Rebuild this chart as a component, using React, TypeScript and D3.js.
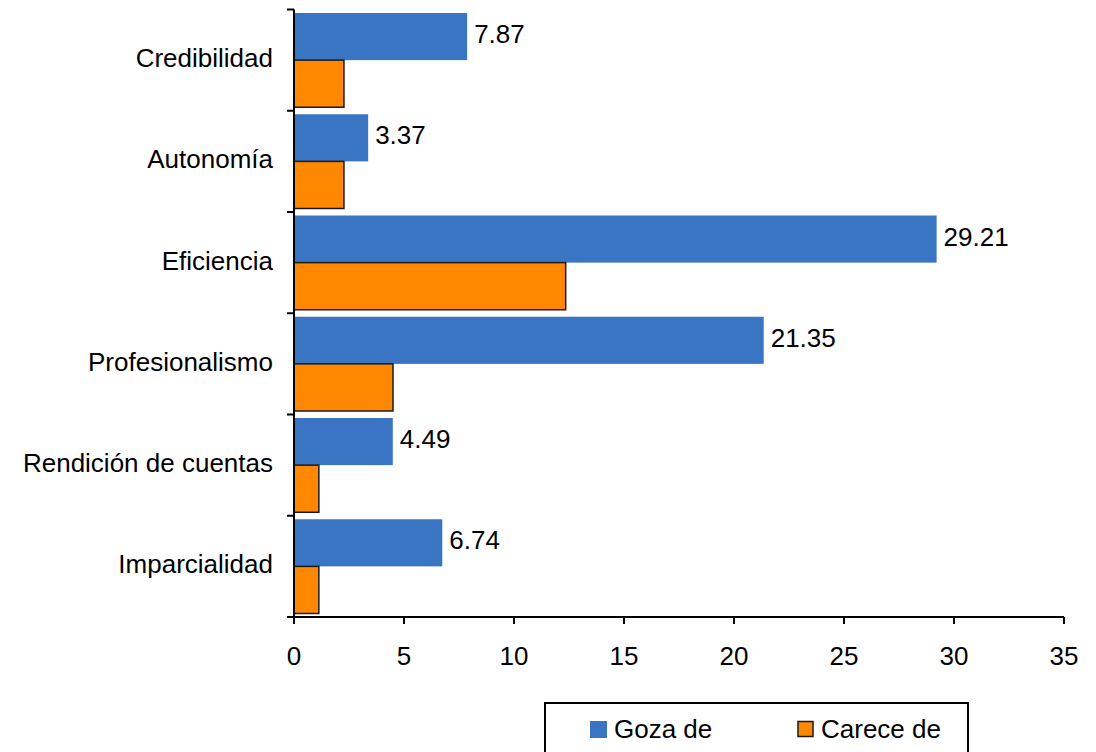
import React from "react";
import * as d3 from "d3";

const categories = ["Credibilidad", "Autonomía", "Eficiencia", "Profesionalismo", "Rendición de cuentas", "Imparcialidad"];
const gozaDe = [7.87, 3.37, 29.21, 21.35, 4.49, 6.74];
const careceDe = [2.27, 2.27, 12.35, 4.5, 1.13, 1.13];
const xTicks = [0, 5, 10, 15, 20, 25, 30, 35];
const seriesNames = ["Goza de", "Carece de"];

const BLUE = "#3A75C4";
const ORANGE = "#FF8800";
const FONT = "'Liberation Sans', Arial, sans-serif";
const FS = 26;

export default function App() {
  const W = 1096, H = 752;
  const left = 294, right = 1064, top = 9.5, bottom = 617;
  const x = d3.scaleLinear().domain([0, 35]).range([left, right]);
  const y = d3.scaleBand().domain(categories).range([top, bottom]).paddingInner(0).paddingOuter(0);
  const bw = y.bandwidth();
  const pad = 3.5;
  const barH = (bw - 2 * pad) / 2;

  return (
    <svg width={W} height={H} style={{ position: "absolute", left: 0, top: 0, background: "#fff" }} fontFamily={FONT}>
      {categories.map((c, i) => {
        const y0 = y(c)!;
        return (
          <g key={c}>
            <rect x={x(0)} y={y0 + pad} width={x(gozaDe[i]) - x(0)} height={barH} fill={BLUE} />
            <rect x={x(0)} y={y0 + pad + barH} width={x(careceDe[i]) - x(0)} height={barH} fill={ORANGE} stroke="#1a1a1a" strokeWidth={1.5} />
            <text x={x(gozaDe[i]) + 7} y={y0 + pad + barH / 2 + 6.5} fontSize={FS} fill="#000">{gozaDe[i].toFixed(2)}</text>
            <text x={273} y={y0 + bw / 2 + 7} fontSize={FS} textAnchor="end" fill="#000">{c}</text>
          </g>
        );
      })}
      {/* y axis */}
      <line x1={left} x2={left} y1={top} y2={bottom} stroke="#000" strokeWidth={2} />
      {[...categories.map((c) => y(c)!), bottom].map((t, i) => (
        <line key={i} x1={left - 7} x2={left} y1={t} y2={t} stroke="#000" strokeWidth={2} />
      ))}
      {/* x axis */}
      <line x1={left - 7} x2={right} y1={bottom} y2={bottom} stroke="#000" strokeWidth={2} />
      {xTicks.map((t) => (
        <g key={t}>
          <line x1={x(t)} x2={x(t)} y1={bottom} y2={bottom + 7} stroke="#000" strokeWidth={2} />
          <text x={x(t)} y={665} fontSize={FS} textAnchor="middle" fill="#000">{t}</text>
        </g>
      ))}
      {/* legend */}
      <rect x={545} y={703} width={423} height={60} fill="#fff" stroke="#000" strokeWidth={2} />
      <rect x={590} y={721} width={17} height={17} fill={BLUE} />
      <text x={614} y={738} fontSize={FS} fill="#000">{seriesNames[0]}</text>
      <rect x={798} y={721.5} width={15} height={15} fill={ORANGE} stroke="#1a1a1a" strokeWidth={1.5} />
      <text x={821} y={738} fontSize={FS} fill="#000">{seriesNames[1]}</text>
    </svg>
  );
}
